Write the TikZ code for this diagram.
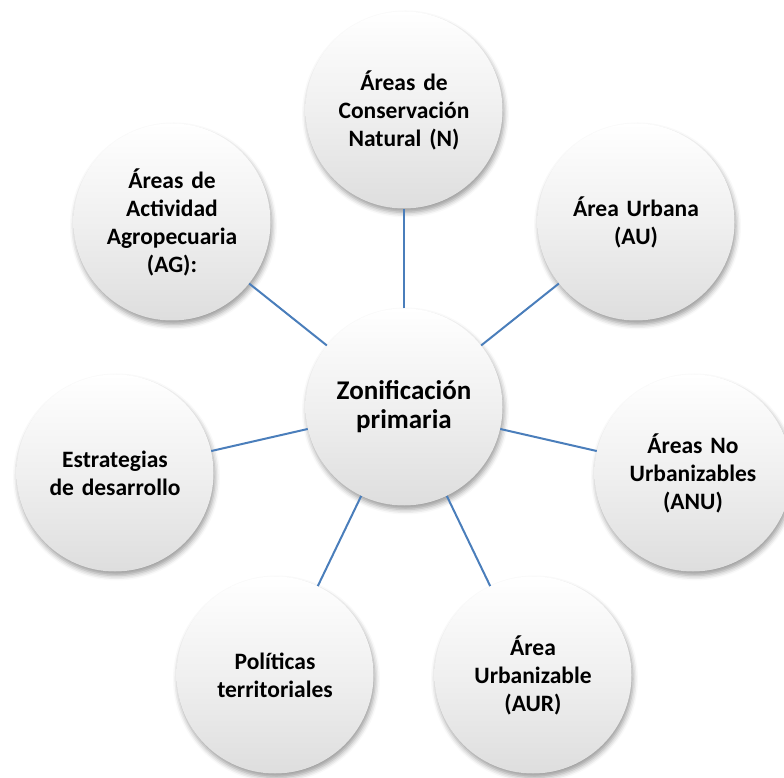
\documentclass[tikz,border=0pt]{standalone}
\usepackage{fontspec}
\setmainfont{Carlito}
\usetikzlibrary{shadows.blur}
\definecolor{linkblue}{HTML}{4A7EBB}
\tikzset{
  bubble/.style={circle, minimum size=197pt, inner sep=0pt, text width=150pt,
    align=center, font=\bfseries\fontsize{23.5}{28}\selectfont,
    top color=white, bottom color=black!13, middle color=white!94!black,
    blur shadow={shadow xshift=1.5pt, shadow yshift=-4pt, shadow blur radius=5pt, shadow opacity=40}},
  hub/.style={bubble, font=\bfseries\fontsize{27}{29}\selectfont},
  link/.style={draw=linkblue, line width=2pt}
}
\begin{document}
\begin{tikzpicture}[x=1pt,y=1pt]
\useasboundingbox (0,0) rectangle (784,777);
\node[hub] (c) at (404,370) {Zonificación\\primaria};
\node[bubble] (n) at (404,667) {Áreas de\\Conservación\\Natural (N)};
\node[bubble] (au) at (636,555) {Área Urbana\\(AU)};
\node[bubble] (anu) at (693,304) {Áreas No\\Urbanizables\\(ANU)};
\node[bubble] (aur) at (533,102) {Área\\Urbanizable\\(AUR)};
\node[bubble] (pol) at (275,102) {Políticas\\territoriales};
\node[bubble] (est) at (115,304) {Estrategias\\de desarrollo};
\node[bubble] (ag) at (172,555) {Áreas de\\Actividad\\Agropecuaria\\(AG):};
\foreach \s in {n,au,anu,aur,pol,est,ag}
  \draw[link] (c) -- (\s);
\end{tikzpicture}
\end{document}
